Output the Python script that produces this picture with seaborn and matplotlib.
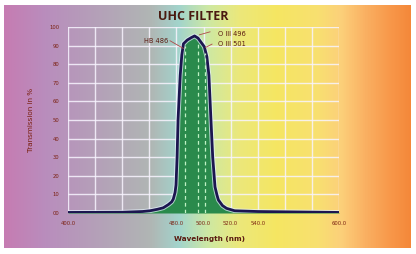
import numpy as np
import pandas as pd
import matplotlib
matplotlib.use("Agg")
import matplotlib.pyplot as plt
import seaborn as sns
from matplotlib.colors import LinearSegmentedColormap

# ---- data ----
wavelength = [400, 440, 455, 460.5, 466, 470.3, 474, 476.5, 477.7, 479, 479.7, 480.5, 481.2, 482.8, 484, 485.2,
              488, 491, 493.4, 496, 498.5, 500.6, 502.5, 504, 505.5, 506.8, 508.5, 510, 511, 514, 517, 523, 540, 600]
transmission = [0.3, 0.4, 0.8, 1.2, 2.0, 2.8, 4.5, 6.0, 7.5, 11.0, 15.0, 30.0, 50.0, 74.0, 85.0, 91.0,
                93.0, 94.3, 95.2, 94.0, 91.5, 89.4, 84.0, 74.0, 50.0, 30.0, 14.0, 9.5, 7.0, 4.0, 2.5, 1.2, 0.8, 0.3]
emission_lines = [486, 496, 501]
line_labels = ["HB 486", "O III 496", "O III 501"]
x_ticks = [400, 480, 500, 520, 540, 600]
x_tick_labels = ["400.0", "480.0", "500.0", "520.0", "540.0", "600.0"]
y_ticks = [0, 10, 20, 30, 40, 50, 60, 70, 80, 90, 100]
y_tick_labels = ["00", "10", "20", "30", "40", "50", "60", "70", "80", "90", "100"]

df = pd.DataFrame({"wavelength": wavelength, "transmission": transmission})

W, H = 416, 254
fig = plt.figure(figsize=(W / 100, H / 100), dpi=100)
fig.patch.set_facecolor("white")

# background gradient
bg = fig.add_axes([0, 0, 1, 1])
bg.set_xlim(0, W); bg.set_ylim(H, 0); bg.axis("off")
stops = [(0.0, "#c67cb2"), (0.10, "#b98dbd"), (0.24, "#b4a2b8"), (0.36, "#b0b6b4"),
         (0.43, "#a2d4cc"), (0.50, "#cde8a4"), (0.58, "#ece87a"), (0.67, "#f5e662"),
         (0.77, "#f8e070"), (0.83, "#fcd07a"), (0.89, "#fab062"), (0.95, "#f8984a"), (1.0, "#f4883a")]
cmap = LinearSegmentedColormap.from_list("bg", stops)
grad = np.linspace(0, 1, 512)[None, :]
bg.imshow(grad, cmap=cmap, aspect="auto", extent=[4, 411, 248, 5], zorder=0)

# main axes
x0, x1 = 68, 339
yt, yb = 27, 213
ax = fig.add_axes([x0 / W, (H - yb) / H, (x1 - x0) / W, (yb - yt) / H])
ax.set_facecolor("none")
ax.set_xlim(400, 600)
ax.set_ylim(0, 100)
for s in ax.spines.values():
    s.set_visible(False)

for gx in range(400, 601, 20):
    ax.axvline(gx, color="#f8f4ff", lw=1.0, alpha=0.85, zorder=1)
for gy in range(10, 101, 10):
    ax.axhline(gy, color="#f8f4ff", lw=1.0, alpha=0.85, zorder=1)

ax.fill_between(df["wavelength"], df["transmission"], 0, color="#2a8a4c", zorder=2, lw=0)
sns.lineplot(data=df, x="wavelength", y="transmission", ax=ax, color="#e8f4ff", lw=3.4, alpha=0.7, zorder=3)
sns.lineplot(data=df, x="wavelength", y="transmission", ax=ax, color="#1c1650", lw=2.0, zorder=4)

tops = np.interp(emission_lines, wavelength, transmission)
for wl, t in zip(emission_lines, tops):
    ax.plot([wl, wl], [0, t - 2], color="#bff2c4", lw=0.9, ls=(0, (3, 2.5)), zorder=5)

txt_color = "#5a1a10"
lead = "#b04848"
# leader lines
ax.plot([475.3, 485.1], [92.6, 88.5], color=lead, lw=0.6, zorder=6)
ax.plot([497.0, 504.8], [95.8, 97.4], color=lead, lw=0.6, zorder=6)
ax.plot([501.5, 506.3], [89.0, 90.8], color=lead, lw=0.6, zorder=6)
ax.text(474, 92.3, line_labels[0], fontsize=4.8, color=txt_color, ha="right", va="center", zorder=6)
ax.text(510.5, 96.3, line_labels[1], fontsize=4.8, color=txt_color, ha="left", va="center", zorder=6)
ax.text(510.5, 90.9, line_labels[2], fontsize=4.8, color=txt_color, ha="left", va="center", zorder=6)

ax.set_xticks(x_ticks)
ax.set_xticklabels(x_tick_labels, fontsize=3.8, color="#7a2010")
ax.set_yticks(y_ticks)
ax.set_yticklabels(y_tick_labels, fontsize=3.8, color="#7a2010")
ax.tick_params(length=0, pad=6)
ax.set_xlabel("")
ax.set_ylabel("")

fig.text(209 / W, 1 - 239 / H, "Wavelength (nm)", fontsize=5.2, color="#5a1a10",
         ha="center", va="center", fontweight="bold")
fig.text(31 / W, 1 - 120 / H, "Transmission in %", fontsize=5.2, color="#7a2010",
         ha="center", va="center", rotation=90)
fig.text(193 / W, 1 - 16 / H, "UHC FILTER", fontsize=9, color="#4a1a10",
         ha="center", va="center", fontweight="bold", family="Open Sans")

fig.savefig("out.png", dpi=100)
